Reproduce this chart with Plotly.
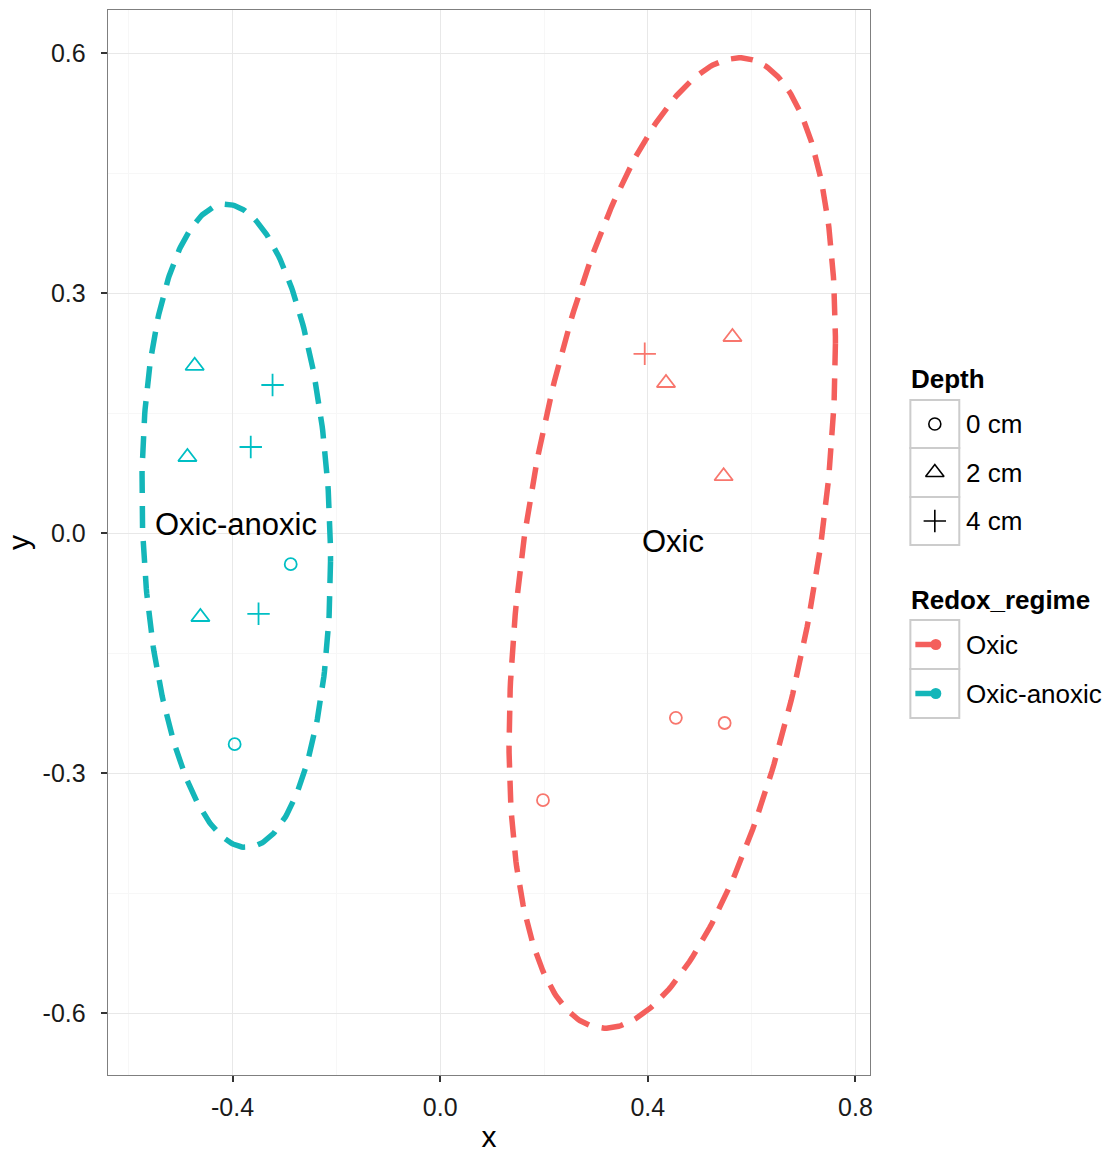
import numpy as np
import plotly.graph_objects as go

# ---------------- data ----------------
oxic_x = [0.394, 0.563, 0.435, 0.546, 0.454, 0.548, 0.198]
oxic_y = [0.224, 0.245, 0.1875, 0.071, -0.231, -0.2375, -0.334]
oxic_depth = ["4 cm", "2 cm", "2 cm", "2 cm", "0 cm", "0 cm", "0 cm"]

anox_x = [-0.473, -0.487, -0.462, -0.323, -0.365, -0.350, -0.288, -0.396]
anox_y = [0.209, 0.095, -0.105, 0.185, 0.1075, -0.101, -0.039, -0.264]
anox_depth = ["2 cm", "2 cm", "2 cm", "4 cm", "4 cm", "4 cm", "0 cm", "0 cm"]

regimes = ["Oxic", "Oxic-anoxic"]
depths = ["0 cm", "2 cm", "4 cm"]

# ellipse parameters (centre, half-extent in x / y, phase in degrees)
ell_cx = [0.447, -0.393]
ell_cy = [-0.0125, 0.009]
ell_ax = [0.3144, 0.1817]
ell_by = [0.6065, 0.402]
ell_phi = [65.7, 96.3]

colors = {"Oxic": "#F8766D", "Oxic-anoxic": "#00BFC4"}
line_colors = {"Oxic": "#F45F5C", "Oxic-anoxic": "#14B6B9"}
symbols = {"0 cm": "circle-open", "2 cm": "triangle-up-open", "4 cm": "cross-thin-open"}
sizes = {"0 cm": 12, "2 cm": 16, "4 cm": 16}

W, H = 1117, 1153
L, R, T, B = 108, 872, 10, 1075
FONT = "Liberation Sans, Arial, sans-serif"

fig = go.Figure()

# ellipses
for i, reg in enumerate(regimes):
    t = np.linspace(0, 2 * np.pi, 400)
    ph = np.deg2rad(ell_phi[i])
    ex = ell_cx[i] + ell_ax[i] * np.cos(t)
    ey = ell_cy[i] + ell_by[i] * np.cos(t + ph)
    fig.add_trace(go.Scatter(x=ex, y=ey, mode="lines",
                             line=dict(color=line_colors[reg], width=5.5, dash="22px,13px"),
                             showlegend=False, hoverinfo="skip"))

# points
for reg, xs, ys, ds in [("Oxic", oxic_x, oxic_y, oxic_depth),
                        ("Oxic-anoxic", anox_x, anox_y, anox_depth)]:
    for d in depths:
        px = [x for x, dd in zip(xs, ds) if dd == d]
        py = [y for y, dd in zip(ys, ds) if dd == d]
        fig.add_trace(go.Scatter(x=px, y=py, mode="markers",
                                 marker=dict(symbol=symbols[d], size=sizes[d],
                                             color=colors[reg],
                                             line=dict(color=colors[reg], width=1.8)),
                                 showlegend=False, name=f"{reg} {d}"))

# centroid labels
for reg, xs, ys in [("Oxic", oxic_x, oxic_y), ("Oxic-anoxic", anox_x, anox_y)]:
    fig.add_annotation(x=float(np.mean(xs)), y=float(np.mean(ys)), text=reg,
                       showarrow=False, font=dict(family=FONT, size=31, color="black"),
                       xref="x", yref="y")

# ---------------- legend on a pixel overlay axis ----------------
key_x0, key_x1 = 912, 961
depth_rows = [(400, 448), (448, 497), (497, 545)]
reg_rows = [(620, 669), (669, 718)]
shapes = []
for (y0, y1) in depth_rows + reg_rows:
    shapes.append(dict(type="rect", xref="x2", yref="y2", x0=key_x0, x1=key_x1,
                       y0=y0, y1=y1, line=dict(color="#CCCCCC", width=2),
                       fillcolor="white", layer="below"))

kx = (key_x0 + key_x1) / 2
for d, (y0, y1) in zip(depths, depth_rows):
    fig.add_trace(go.Scatter(x=[kx], y=[(y0 + y1) / 2], mode="markers", xaxis="x2", yaxis="y2",
                             marker=dict(symbol=symbols[d], size=sizes[d], color="black",
                                         line=dict(color="black", width=1.6)),
                             showlegend=False, hoverinfo="skip"))
    fig.add_annotation(x=966, y=(y0 + y1) / 2, text=d, xref="x2", yref="y2",
                       xanchor="left", showarrow=False,
                       font=dict(family=FONT, size=26, color="black"))
for reg, (y0, y1) in zip(regimes, reg_rows):
    yc = (y0 + y1) / 2
    fig.add_trace(go.Scatter(x=[key_x0 + 5, kx + 1], y=[yc, yc], mode="lines", xaxis="x2", yaxis="y2",
                             line=dict(color=line_colors[reg], width=5.5),
                             showlegend=False, hoverinfo="skip"))
    fig.add_trace(go.Scatter(x=[kx + 1], y=[yc], mode="markers", xaxis="x2", yaxis="y2",
                             marker=dict(symbol="circle", size=11, color=line_colors[reg]),
                             showlegend=False, hoverinfo="skip"))
    fig.add_annotation(x=966, y=yc, text=reg, xref="x2", yref="y2",
                       xanchor="left", showarrow=False,
                       font=dict(family=FONT, size=26, color="black"))
fig.add_annotation(x=911, y=379, text="<b>Depth</b>", xref="x2", yref="y2",
                   xanchor="left", showarrow=False, font=dict(family=FONT, size=26, color="black"))
fig.add_annotation(x=911, y=600, text="<b>Redox_regime</b>", xref="x2", yref="y2",
                   xanchor="left", showarrow=False, font=dict(family=FONT, size=26, color="black"))

axis_common = dict(showline=True, linecolor="#7F7F7F", linewidth=1.2, mirror=True,
                   ticks="outside", ticklen=6, tickwidth=1.8, tickcolor="#333333",
                   gridcolor="#E8E8E8", gridwidth=1.2, zeroline=False,
                   tickfont=dict(family=FONT, size=25, color="#1a1a1a"))

fig.update_layout(
    width=W, height=H,
    margin=dict(l=0, r=0, t=0, b=0),
    paper_bgcolor="white", plot_bgcolor="rgba(0,0,0,0)",
    showlegend=False,
    shapes=shapes,
    xaxis=dict(domain=[L / W, R / W], range=[(L - 441) / 520, (R - 441) / 520],
               tickvals=[-0.4, 0.0, 0.4, 0.8], ticktext=["-0.4", "0.0", "0.4", "0.8"],
               title=dict(text="x", font=dict(family=FONT, size=30, color="black"), standoff=10),
               anchor="y", ticklabelstandoff=4,
               minor=dict(tickvals=[-0.6, -0.2, 0.2, 0.6], showgrid=True,
                          gridcolor="#F7F7F7", gridwidth=1.2, ticks=""),
               **axis_common),
    yaxis=dict(domain=[1 - B / H, 1 - T / H], range=[(533 - B) / 800, (533 - T) / 800],
               tickvals=[-0.6, -0.3, 0.0, 0.3, 0.6], ticktext=["-0.6", "-0.3", "0.0", "0.3", "0.6"],
               title=dict(text="y", font=dict(family=FONT, size=30, color="black"), standoff=4),
               anchor="x", ticklabelstandoff=10,
               minor=dict(tickvals=[-0.45, -0.15, 0.15, 0.45], showgrid=True,
                          gridcolor="#F7F7F7", gridwidth=1.2, ticks=""),
               **axis_common),
    xaxis2=dict(domain=[0, 1], range=[0, W], visible=False, anchor="y2"),
    yaxis2=dict(domain=[0, 1], range=[H, 0], visible=False, anchor="x2"),
)

fig.write_html("out.html")
